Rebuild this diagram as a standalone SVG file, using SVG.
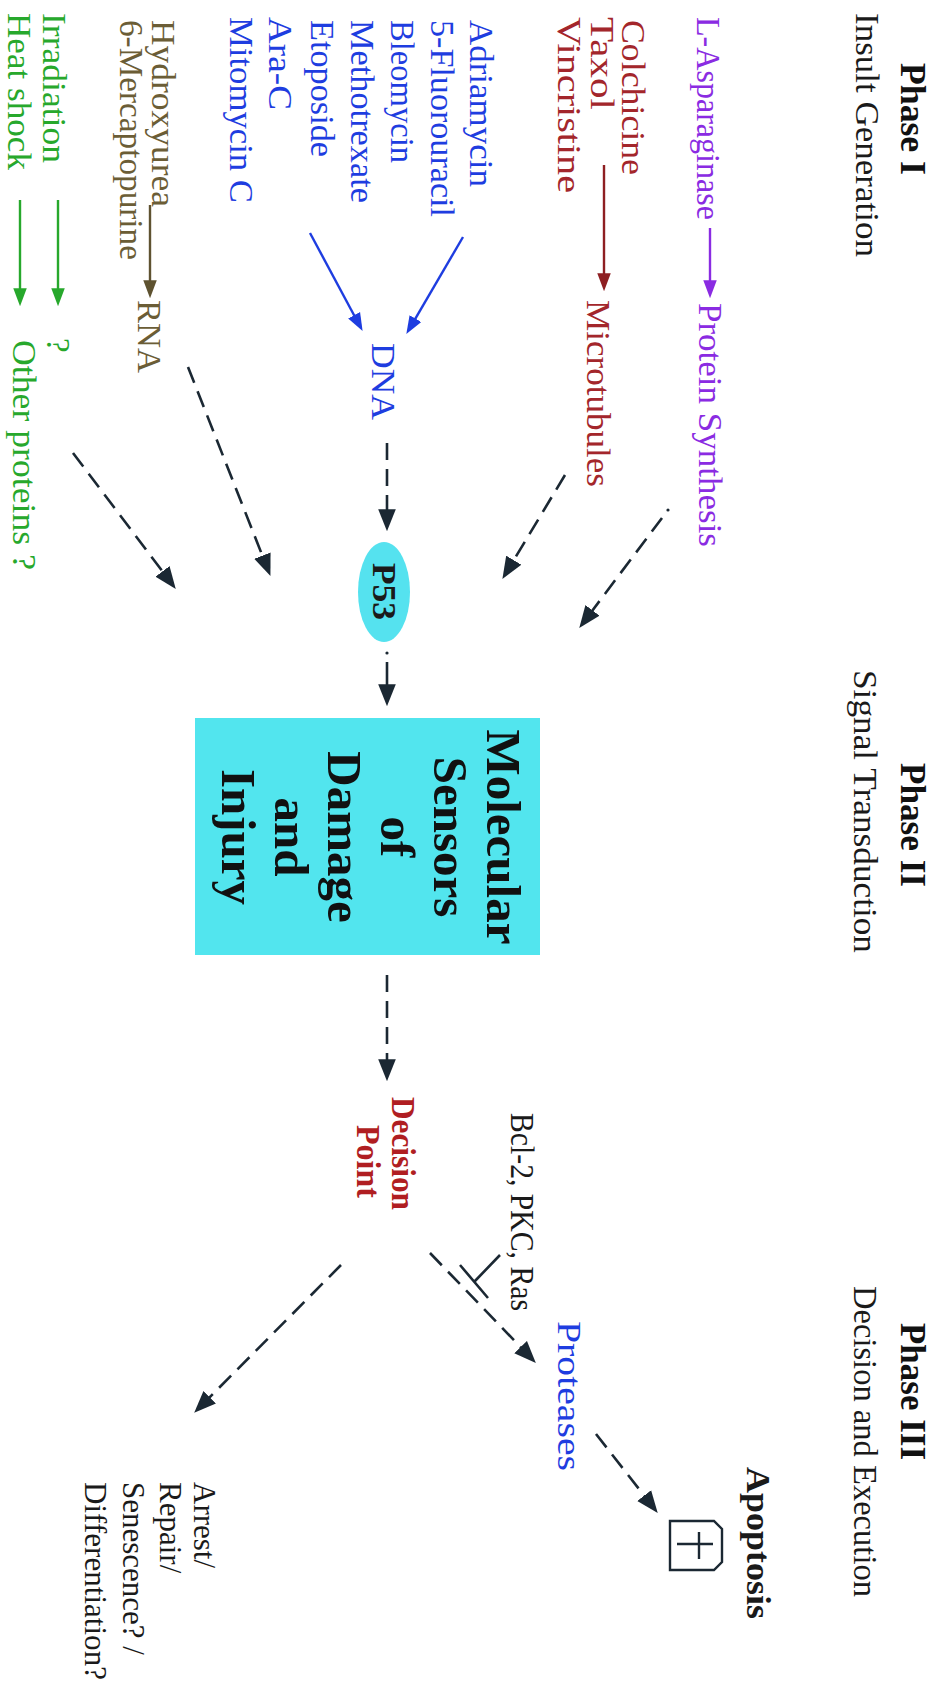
<svg xmlns="http://www.w3.org/2000/svg" width="944" height="1683" viewBox="0 0 944 1683">
<style>
text{font-family:"Liberation Serif","Times New Roman",serif;font-size:33px}
.b{font-weight:bold}
.ph{font-size:35px;font-weight:bold;fill:#111}
.sub{fill:#1a1a1a}
.pur{fill:#8a2be2}
.red{fill:#a3262b}
.blu{fill:#1e3de0}
.olv{fill:#6b5d36}
.grn{fill:#27a82c}
.blk{fill:#1a1a1a}
.out{font-size:31px}
.dash{fill:none;stroke:#1b2833;stroke-width:2.6;stroke-dasharray:17 9}
.sol{fill:none;stroke-width:2.4}
.box{font-size:49px;font-weight:bold;fill:#111;text-anchor:middle}
</style>
<defs>
<marker id="hd" markerUnits="userSpaceOnUse" markerWidth="22" markerHeight="18" viewBox="0 0 20 16" refX="8" refY="8" orient="auto"><path d="M0,0 L20,8 L0,16 z" fill="#1b2833"/></marker>
<marker id="hpur" markerUnits="userSpaceOnUse" markerWidth="18" markerHeight="14" viewBox="0 0 16 12" refX="6" refY="6" orient="auto"><path d="M0,0 L16,6 L0,12 z" fill="#8a2be2"/></marker>
<marker id="hred" markerUnits="userSpaceOnUse" markerWidth="18" markerHeight="14" viewBox="0 0 16 12" refX="6" refY="6" orient="auto"><path d="M0,0 L16,6 L0,12 z" fill="#8e1f22"/></marker>
<marker id="hblu" markerUnits="userSpaceOnUse" markerWidth="18" markerHeight="14" viewBox="0 0 16 12" refX="6" refY="6" orient="auto"><path d="M0,0 L16,6 L0,12 z" fill="#1e3de0"/></marker>
<marker id="holv" markerUnits="userSpaceOnUse" markerWidth="18" markerHeight="14" viewBox="0 0 16 12" refX="6" refY="6" orient="auto"><path d="M0,0 L16,6 L0,12 z" fill="#5e5230"/></marker>
<marker id="hgrn" markerUnits="userSpaceOnUse" markerWidth="18" markerHeight="14" viewBox="0 0 16 12" refX="6" refY="6" orient="auto"><path d="M0,0 L16,6 L0,12 z" fill="#27a82c"/></marker>
</defs>
<rect width="944" height="1683" fill="#ffffff"/>
<g transform="translate(944,0) rotate(90)">
  <g id="phases">
    <text class="ph" x="63" y="43" textLength="112" lengthAdjust="spacingAndGlyphs">Phase I</text>
    <text class="sub" x="13" y="88" textLength="244" lengthAdjust="spacingAndGlyphs">Insult Generation</text>
    <text class="ph" x="763" y="43" textLength="124" lengthAdjust="spacingAndGlyphs">Phase II</text>
    <text class="sub" x="670" y="90" textLength="283" lengthAdjust="spacingAndGlyphs">Signal Transduction</text>
    <text class="ph" x="1323" y="43" textLength="137" lengthAdjust="spacingAndGlyphs">Phase III</text>
    <text class="sub" x="1286" y="90" textLength="311" lengthAdjust="spacingAndGlyphs">Decision and Execution</text>
  </g>
  <g id="asparaginase"><text class="pur" x="17" y="247" textLength="203" lengthAdjust="spacingAndGlyphs">L-Asparaginase</text></g>
  <g id="protein-synthesis"><text class="pur" x="303" y="245" textLength="244" lengthAdjust="spacingAndGlyphs">Protein Synthesis</text></g>
  <g id="tubulin-drugs">
    <text class="red" x="20" y="322" textLength="155" lengthAdjust="spacingAndGlyphs">Colchicine</text>
    <text class="red" x="17" y="353" textLength="93" lengthAdjust="spacingAndGlyphs">Taxol</text>
    <text class="red" x="17" y="386" textLength="176" lengthAdjust="spacingAndGlyphs">Vincristine</text>
  </g>
  <g id="microtubules"><text class="red" x="300" y="357" textLength="187" lengthAdjust="spacingAndGlyphs">Microtubules</text></g>
  <g id="dna-drugs">
    <text class="blu" x="20" y="474" textLength="167" lengthAdjust="spacingAndGlyphs">Adriamycin</text>
    <text class="blu" x="20" y="513" textLength="197" lengthAdjust="spacingAndGlyphs">5-Fluorouracil</text>
    <text class="blu" x="20" y="553" textLength="143" lengthAdjust="spacingAndGlyphs">Bleomycin</text>
    <text class="blu" x="20" y="593" textLength="183" lengthAdjust="spacingAndGlyphs">Methotrexate</text>
    <text class="blu" x="20" y="633" textLength="137" lengthAdjust="spacingAndGlyphs">Etoposide</text>
    <text class="blu" x="17" y="675" textLength="93" lengthAdjust="spacingAndGlyphs">Ara-C</text>
    <text class="blu" x="17" y="714" textLength="186" lengthAdjust="spacingAndGlyphs">Mitomycin C</text>
  </g>
  <g id="dna"><text class="blu" x="343" y="572" textLength="77" lengthAdjust="spacingAndGlyphs">DNA</text></g>
  <g id="p53">
    <ellipse cx="592" cy="560" rx="50" ry="26" fill="#55e2ef"/>
    <text class="b blk" x="563" y="571" font-size="32" textLength="57" lengthAdjust="spacingAndGlyphs">P53</text>
  </g>
  <g id="rna-drugs">
    <text class="olv" x="20" y="792" textLength="187" lengthAdjust="spacingAndGlyphs">Hydroxyurea</text>
    <text class="olv" x="20" y="824" textLength="240" lengthAdjust="spacingAndGlyphs">6-Mercaptopurine</text>
  </g>
  <g id="rna"><text class="olv" x="300" y="806" textLength="73" lengthAdjust="spacingAndGlyphs">RNA</text></g>
  <g id="irradiation"><text class="grn" x="13" y="901" textLength="150" lengthAdjust="spacingAndGlyphs">Irradiation</text></g>
  <g id="heat-shock"><text class="grn" x="13" y="936" textLength="157" lengthAdjust="spacingAndGlyphs">Heat shock</text></g>
  <g id="unknown"><text class="grn" x="338" y="897">?</text></g>
  <g id="other-proteins"><text class="grn" x="340" y="931" textLength="230" lengthAdjust="spacingAndGlyphs">Other proteins ?</text></g>
  <g id="sensors">
    <rect x="718" y="404" width="237" height="345" fill="#52e5ee"/>
    <text class="box" x="837" y="457">Molecular</text>
    <text class="box" x="837" y="510">Sensors</text>
    <text class="box" x="837" y="563">of</text>
    <text class="box" x="837" y="616">Damage</text>
    <text class="box" x="837" y="669">and</text>
    <text class="box" x="837" y="722">Injury</text>
  </g>
  <g id="decision-point">
    <text class="b" fill="#b01e22" x="1097" y="552" textLength="113" lengthAdjust="spacingAndGlyphs">Decision</text>
    <text class="b" fill="#b01e22" x="1125" y="587" textLength="73" lengthAdjust="spacingAndGlyphs">Point</text>
  </g>
  <g id="inhibitors"><text class="blk" x="1113" y="433" font-size="31" textLength="198" lengthAdjust="spacingAndGlyphs">Bcl-2, PKC, Ras</text></g>
  <g id="proteases"><text class="blu" x="1321" y="386" textLength="150" lengthAdjust="spacingAndGlyphs">Proteases</text></g>
  <g id="apoptosis">
    <text class="b blk" x="1467" y="197" font-size="34" textLength="152" lengthAdjust="spacingAndGlyphs">Apoptosis</text>
    <path d="M1521,274 L1521,230 L1529,222 L1562,222 L1570,230 L1570,274 Z" fill="none" stroke="#1b2833" stroke-width="2.4"/>
    <path d="M1544,231 L1544,267 M1532,245 L1559,245" stroke="#1b2833" stroke-width="2.4" fill="none"/>
  </g>
  <g id="outcomes">
    <text class="blk out" x="1482" y="750">Arrest/</text>
    <text class="blk out" x="1482" y="784">Repair/</text>
    <text class="blk out" x="1482" y="821">Senescence? /</text>
    <text class="blk out" x="1482" y="859" textLength="198" lengthAdjust="spacingAndGlyphs">Differentiation?</text>
  </g>
  <g id="connectors">
    <line class="sol" stroke="#8a2be2" x1="228" y1="234" x2="287" y2="234" marker-end="url(#hpur)"/>
    <line class="sol" stroke="#8e1f22" x1="165" y1="340" x2="280" y2="340" marker-end="url(#hred)"/>
    <line class="sol" stroke="#1e3de0" x1="237" y1="481" x2="324.4" y2="532" marker-end="url(#hblu)"/>
    <line class="sol" stroke="#1e3de0" x1="233" y1="634" x2="321.2" y2="586.7" marker-end="url(#hblu)"/>
    <line class="sol" stroke="#5e5230" x1="205" y1="794" x2="287" y2="794" marker-end="url(#holv)"/>
    <line class="sol" stroke="#27a82c" x1="200" y1="886" x2="295" y2="886" marker-end="url(#hgrn)"/>
    <line class="sol" stroke="#27a82c" x1="200" y1="924" x2="295" y2="924" marker-end="url(#hgrn)"/>
    <line class="dash" x1="443" y1="557" x2="518" y2="557" marker-end="url(#hd)"/>
    <circle cx="653" cy="557" r="1.6" fill="#1b2833"/>
    <line class="dash" style="stroke-dasharray:none" x1="662" y1="557" x2="693" y2="557" marker-end="url(#hd)"/>
    <line class="dash" x1="975" y1="557" x2="1068" y2="557" marker-end="url(#hd)"/>
    <line class="dash" x1="475" y1="379" x2="567.7" y2="434.8" marker-end="url(#hd)"/>
    <circle cx="510" cy="276" r="1.6" fill="#1b2833"/>
    <line class="dash" x1="518" y1="282" x2="617.4" y2="356.8" marker-end="url(#hd)"/>
    <line class="dash" x1="367" y1="756" x2="563.8" y2="678.4" marker-end="url(#hd)"/>
    <line class="dash" x1="453" y1="871" x2="578.4" y2="776.2" marker-end="url(#hd)"/>
    <line class="dash" x1="1253" y1="514" x2="1353.4" y2="417.3" marker-end="url(#hd)"/>
    <path d="M1255,444 L1281,469 M1265,484 L1298,456" fill="none" stroke="#1b2833" stroke-width="2.6"/>
    <line class="dash" x1="1265" y1="603" x2="1403.5" y2="740.5" marker-end="url(#hd)"/>
    <line class="dash" x1="1434" y1="348" x2="1502.5" y2="294.4" marker-end="url(#hd)"/>
  </g>
</g>
</svg>
